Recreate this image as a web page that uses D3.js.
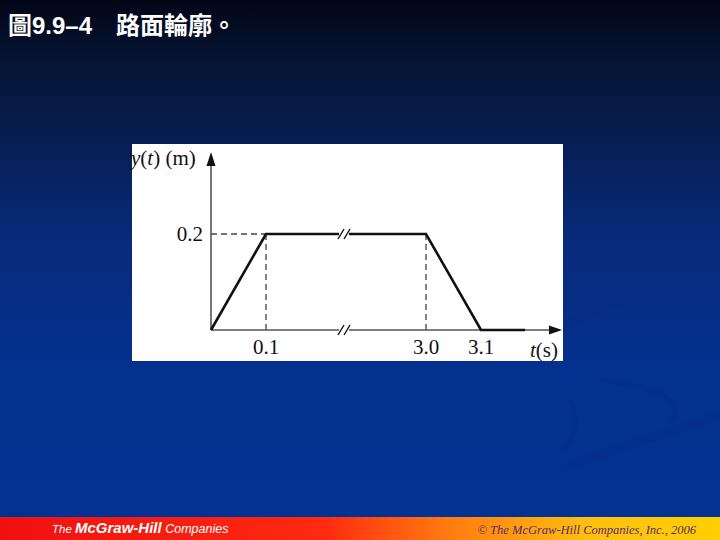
<!DOCTYPE html>
<html><head><meta charset="utf-8">
<script src="https://cdn.jsdelivr.net/npm/d3@7/dist/d3.min.js"></script>
<style>html,body{margin:0;padding:0;background:#000;}svg{display:block;}</style>
</head><body>
<script>
// Data
const timePoints = [0, 0.1, 3.0, 3.1, 3.18];
const heightValues = [0, 0.2, 0.2, 0, 0];
const xTickValues = [0.1, 3.0, 3.1];
const xTickLabels = ["0.1", "3.0", "3.1"];
const yTickValues = [0.2];
const yTickLabels = ["0.2"];
const titleText = "圖9.9–4　路面輪廓。";

const W = 720, H = 540;
const svg = d3.select("body").append("svg").attr("width", W).attr("height", H);
const defs = svg.append("defs");

const bg = defs.append("linearGradient").attr("id","bg").attr("x1",0).attr("y1",0).attr("x2",0).attr("y2",1);
bg.append("stop").attr("offset","0").attr("stop-color","#020616");
bg.append("stop").attr("offset","0.12").attr("stop-color","#061535");
bg.append("stop").attr("offset","0.45").attr("stop-color","#082b7c");
bg.append("stop").attr("offset","0.7").attr("stop-color","#03318f");
bg.append("stop").attr("offset","1").attr("stop-color","#023394");
svg.append("rect").attr("width",W).attr("height",H).attr("fill","url(#bg)");

// faint swirls
const sw = svg.append("g").attr("fill","none").attr("stroke","#0a2c85").attr("stroke-opacity",0.35);
sw.append("path").attr("d","M560,330 C600,300 660,290 720,295").attr("stroke-width",8);
sw.append("path").attr("d","M560,470 C620,445 680,430 720,415").attr("stroke-width",8);
sw.append("path").attr("d","M600,380 C650,385 690,400 670,420").attr("stroke-width",5);
sw.append("path").attr("d","M570,400 C580,420 575,440 560,450").attr("stroke-width",5);

// bottom bar
const bar = defs.append("linearGradient").attr("id","bar").attr("x1",0).attr("y1",0).attr("x2",1).attr("y2",0);
bar.append("stop").attr("offset","0").attr("stop-color","#f01010");
bar.append("stop").attr("offset","0.45").attr("stop-color","#ff2a10");
bar.append("stop").attr("offset","0.62").attr("stop-color","#ff7a10");
bar.append("stop").attr("offset","0.82").attr("stop-color","#ffc010");
bar.append("stop").attr("offset","1").attr("stop-color","#ffd000");
svg.append("rect").attr("x",0).attr("y",517).attr("width",W).attr("height",23).attr("fill","url(#bar)");

svg.append("text").attr("x",52).attr("y",533).attr("fill","#fff")
  .attr("font-family","Liberation Sans, Arial, sans-serif").attr("font-style","italic").attr("font-size",12.5)
  .html('<tspan font-size="11.5">The </tspan><tspan font-weight="bold" font-size="15">McGraw-Hill</tspan><tspan> Companies</tspan>');
svg.append("text").attr("x",696).attr("y",534).attr("text-anchor","end").attr("fill","#5a2a6a")
  .attr("font-family","Liberation Serif, Times New Roman, serif").attr("font-style","italic").attr("font-size",12.5)
  .text("© The McGraw-Hill Companies, Inc., 2006");

// title
svg.append("text").attr("x",8).attr("y",34).attr("fill","#fff")
  .attr("font-family","Liberation Sans, 'Noto Sans CJK TC', sans-serif").attr("font-weight","bold").attr("font-size",24)
  .text(titleText);

// white panel
svg.append("rect").attr("x",132).attr("y",144).attr("width",431).attr("height",217).attr("fill","#fff");

// scales (broken time axis -> piecewise)
const x = d3.scaleLinear().domain([0, 0.1, 3.0, 3.1, 3.18]).range([211, 266, 426, 481, 525]);
const y = d3.scaleLinear().domain([0, 0.2]).range([330, 234]);

const g = svg.append("g");
const axisColor = "#555";

// dashed guides
g.selectAll(".vd").data(xTickValues.slice(0,2)).enter().append("line")
  .attr("x1", d=>x(d)).attr("x2", d=>x(d)).attr("y1", y(0)).attr("y2", y(0.2))
  .attr("stroke","#444").attr("stroke-width",1.3).attr("stroke-dasharray","6,4");
g.selectAll(".hd").data(yTickValues).enter().append("line")
  .attr("x1", x(0)).attr("x2", x(0.1)).attr("y1", d=>y(d)).attr("y2", d=>y(d))
  .attr("stroke","#444").attr("stroke-width",1.3).attr("stroke-dasharray","6,4");

// axes lines
g.append("line").attr("x1",x(0)).attr("x2",x(0)).attr("y1",y(0)).attr("y2",160).attr("stroke",axisColor).attr("stroke-width",1.6);
g.append("path").attr("d",`M${x(0)},152 L${x(0)-4.5},166 L${x(0)+4.5},166 Z`).attr("fill","#111");
g.append("line").attr("x1",x(0)).attr("x2",553).attr("y1",y(0)).attr("y2",y(0)).attr("stroke",axisColor).attr("stroke-width",1.6);
g.append("path").attr("d",`M562,${y(0)} L549,${y(0)-4.5} L549,${y(0)+4.5} Z`).attr("fill","#111");

// data line
const line = d3.line().x((d,i)=>x(timePoints[i])).y(d=>y(d));
g.append("path").attr("d", line(heightValues)).attr("fill","none").attr("stroke","#111").attr("stroke-width",2.6).attr("stroke-linejoin","miter");

// break marks
const bx = (x(0.1)+x(3.0))/2 - 2;
[y(0.2), y(0)].forEach(yy=>{
  g.append("rect").attr("x",bx-5).attr("y",yy-3).attr("width",10).attr("height",6).attr("fill","#fff");
  [-3,3].forEach(o=>{
    g.append("line").attr("x1",bx+o-3).attr("x2",bx+o+3).attr("y1",yy+5).attr("y2",yy-5).attr("stroke","#111").attr("stroke-width",1.4);
  });
});

// tick labels
const serif = "Liberation Serif, Times New Roman, serif";
g.selectAll(".xt").data(xTickValues).enter().append("text")
  .attr("x", d=>x(d)).attr("y", 354).attr("text-anchor","middle")
  .attr("font-family",serif).attr("font-size",21).attr("fill","#111")
  .text((d,i)=>xTickLabels[i]);
g.selectAll(".yt").data(yTickValues).enter().append("text")
  .attr("x", 203).attr("y", d=>y(d)+7).attr("text-anchor","end")
  .attr("font-family",serif).attr("font-size",21).attr("fill","#111")
  .text((d,i)=>yTickLabels[i]);

// axis titles
g.append("text").attr("x",131).attr("y",165).attr("font-family",serif).attr("font-size",21).attr("fill","#111")
  .html('<tspan font-style="italic">y</tspan>(<tspan font-style="italic">t</tspan>) (m)');
g.append("text").attr("x",530).attr("y",357).attr("font-family",serif).attr("font-size",21).attr("fill","#111")
  .html('<tspan font-style="italic">t</tspan>(s)');
</script>
</body></html>
